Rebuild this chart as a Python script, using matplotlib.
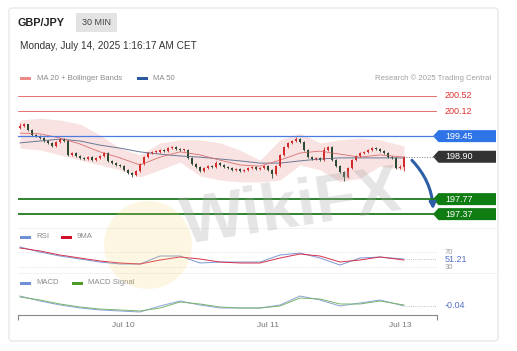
import matplotlib
matplotlib.use('Agg')
from matplotlib import pyplot as plt
from matplotlib.patches import FancyBboxPatch, Polygon, Rectangle, Circle, FancyArrowPatch
from matplotlib.transforms import blended_transform_factory

plt.rcParams['font.family'] = ['Liberation Sans', 'DejaVu Sans']

W, H = 517, 351

# 30 min candles, GBP/JPY
first_open = 199.68
closes = [199.72, 199.77, 199.61, 199.48, 199.45, 199.40, 199.32, 199.27, 199.19, 199.29,
          199.37, 199.32, 198.95, 199.00, 198.92, 198.87, 198.84, 198.89, 198.81, 198.87,
          198.92, 199.00, 198.79, 198.73, 198.68, 198.65, 198.55, 198.47, 198.41, 198.52,
          198.71, 198.89, 199.00, 199.03, 199.03, 199.08, 199.05, 199.13, 199.16, 199.11,
          199.08, 199.08, 198.87, 198.71, 198.63, 198.52, 198.60, 198.65, 198.63, 198.73,
          198.68, 198.63, 198.60, 198.55, 198.57, 198.52, 198.55, 198.60, 198.63, 198.57,
          198.60, 198.65, 198.55, 198.44, 198.65, 198.95, 199.16, 199.27, 199.32, 199.37,
          199.29, 199.08, 198.89, 198.84, 198.87, 198.81, 199.08, 199.16, 198.81, 198.65,
          198.49, 198.36, 198.60, 198.81, 198.92, 199.00, 199.03, 199.08, 199.13, 199.11,
          199.05, 199.00, 198.89, 198.87, 198.60, 198.63, 198.89]
highs = [199.80, 199.79, 199.78, 199.63, 199.52, 199.48, 199.42, 199.35, 199.29, 199.31,
         199.40, 199.39, 199.34, 199.03, 199.02, 198.94, 198.90, 198.92, 198.91, 198.89,
         198.95, 199.04, 199.02, 198.81, 198.75, 198.71, 198.67, 198.57, 198.50, 198.55,
         198.74, 198.92, 199.03, 199.06, 199.07, 199.11, 199.10, 199.17, 199.20, 199.18,
         199.14, 199.12, 199.10, 198.89, 198.73, 198.65, 198.63, 198.68, 198.68, 198.78,
         198.75, 198.70, 198.66, 198.62, 198.60, 198.59, 198.58, 198.62, 198.66, 198.65,
         198.63, 198.68, 198.67, 198.57, 198.68, 198.98, 199.19, 199.30, 199.36, 199.42,
         199.40, 199.31, 199.10, 198.92, 198.90, 198.90, 199.15, 199.19, 199.18, 198.83,
         198.67, 198.51, 198.63, 198.84, 198.96, 199.03, 199.06, 199.11, 199.17, 199.16,
         199.13, 199.07, 199.02, 198.92, 198.89, 198.67, 198.92]
lows = [199.64, 199.70, 199.58, 199.45, 199.42, 199.37, 199.29, 199.24, 199.16, 199.17,
        199.27, 199.30, 198.92, 198.93, 198.89, 198.84, 198.82, 198.82, 198.78, 198.79,
        198.85, 198.90, 198.76, 198.70, 198.66, 198.62, 198.52, 198.44, 198.37, 198.39,
        198.50, 198.69, 198.87, 198.98, 199.00, 199.01, 199.02, 199.03, 199.11, 199.08,
        199.05, 199.05, 198.84, 198.68, 198.60, 198.49, 198.50, 198.58, 198.60, 198.61,
        198.65, 198.60, 198.58, 198.52, 198.53, 198.49, 198.50, 198.53, 198.58, 198.54,
        198.55, 198.58, 198.52, 198.33, 198.42, 198.63, 198.93, 199.14, 199.25, 199.30,
        199.26, 199.05, 198.86, 198.81, 198.82, 198.78, 198.79, 199.06, 198.78, 198.62,
        198.46, 198.25, 198.34, 198.58, 198.79, 198.90, 198.98, 199.01, 199.06, 199.08,
        199.03, 198.97, 198.86, 198.84, 198.57, 198.58, 198.52]

# indicator samples (candle index)
ind_idx = [0, 5, 10, 15, 20, 25, 30, 35, 40, 45, 50, 55, 60, 65, 70, 75, 80, 85, 90, 96]
bb_upper = [199.88, 199.93, 199.88, 199.77, 199.48, 199.13, 198.95, 199.27, 199.35, 199.35,
            199.27, 199.08, 198.81, 199.35, 199.53, 199.27, 199.35, 199.40, 199.35, 199.19]
bb_lower = [199.13, 199.08, 198.95, 198.81, 198.68, 198.55, 198.36, 198.55, 198.76, 198.39,
            198.28, 198.23, 198.23, 198.28, 198.68, 198.55, 198.23, 198.33, 198.65, 198.55]
ma20 = [199.53, 199.51, 199.40, 199.24, 199.03, 198.87, 198.68, 198.89, 199.03, 198.95,
        198.81, 198.68, 198.65, 198.81, 199.00, 199.05, 198.97, 198.89, 198.95, 198.89]
ma50 = [199.27, 199.32, 199.37, 199.32, 199.21, 199.13, 199.03, 198.97, 198.92, 198.89,
        198.84, 198.79, 198.73, 198.73, 198.79, 198.84, 198.87, 198.87, 198.87, 198.87]
rsi = [83.3, 70.0, 59.3, 51.3, 43.3, 38.0, 38.0, 59.3, 59.3, 40.7,
       43.3, 43.3, 43.3, 62.0, 67.3, 54.0, 35.3, 54.0, 56.7, 51.2]
rsi_ma = [80.7, 72.7, 62.0, 54.0, 46.0, 40.7, 38.0, 48.7, 56.7, 51.3,
          43.3, 40.7, 40.7, 54.0, 64.7, 59.3, 43.3, 48.7, 56.7, 48.7]
macd = [0.06, 0.01, -0.03, -0.06, -0.08, -0.09, -0.10, -0.04, 0.01, -0.03,
        -0.06, -0.06, -0.06, -0.03, 0.06, 0.02, -0.04, -0.01, 0.02, -0.04]
macd_signal = [0.05, 0.02, -0.02, -0.05, -0.07, -0.08, -0.09, -0.06, 0.00, -0.02,
               -0.05, -0.06, -0.06, -0.04, 0.04, 0.03, -0.02, -0.02, 0.01, -0.03]

resistances = [200.52, 200.12]
pivot = 199.45
last_price = 198.90
supports = [197.77, 197.37]
rsi_last = 51.21
macd_last = -0.04
day_idx = [25.75, 62, 95]
day_labels = ['Jul 10', 'Jul 11', 'Jul 13']

opens = [first_open] + closes[:-1]
n = len(closes)
XMIN, XMAX = -0.5, 104.25


def rect(x0, y0, x1, y1):
    return [x0 / W, 1 - y1 / H, (x1 - x0) / W, (y1 - y0) / H]


fig = plt.figure(figsize=(W / 100, H / 100), dpi=100)
bg = fig.add_axes([0, 0, 1, 1])
bg.set_xlim(0, W)
bg.set_ylim(H, 0)
bg.axis('off')

bg.add_patch(FancyBboxPatch((9, 8), 489, 333, boxstyle='round,pad=0,rounding_size=3',
                            fc='white', ec='#e4e4e4', lw=0.8))
bg.text(18, 22.5, 'GBP/JPY', fontsize=7.8, fontweight='bold', color='#222222', va='center')
bg.add_patch(Rectangle((76, 13), 41, 19, fc='#e3e3e3', ec='none'))
bg.text(96.5, 22.5, '30 MIN', fontsize=6.5, color='#444444', ha='center', va='center')
bg.text(20, 46, 'Monday, July 14, 2025 1:16:17 AM CET', fontsize=7.2, color='#333333', va='center')

gray = '#8a8a8a'
bg.add_patch(Rectangle((20, 76.5), 11, 3, fc='#ec8a8a', ec='none'))
bg.text(37, 78, 'MA 20 + Bollinger Bands', fontsize=5.6, color=gray, va='center')
bg.add_patch(Rectangle((137, 76.5), 11, 3, fc='#2c5aa0', ec='none'))
bg.text(153, 78, 'MA 50', fontsize=5.6, color=gray, va='center')
bg.text(491, 78, 'Research \u00a9 2025 Trading Central', fontsize=5.6, color='#a0a0a0',
        ha='right', va='center')

bg.add_patch(Rectangle((20, 235.5), 11, 3, fc='#6f8fd6', ec='none'))
bg.text(36, 237, 'RSI', fontsize=5.6, color=gray, va='center')
bg.add_patch(Rectangle((61, 235.5), 11, 3, fc='#d0102a', ec='none'))
bg.text(77, 237, '9MA', fontsize=5.6, color=gray, va='center')
bg.add_patch(Rectangle((20, 281.5), 11, 3, fc='#6f8fd6', ec='none'))
bg.text(36, 283, 'MACD', fontsize=5.6, color=gray, va='center')
bg.add_patch(Rectangle((72, 281.5), 11, 3, fc='#4e9a2a', ec='none'))
bg.text(88, 283, 'MACD Signal', fontsize=5.6, color=gray, va='center')

for yy in (228, 273):
    bg.plot([18, 497], [yy, yy], color='#f0f0f0', lw=0.6)

# price panel
ax = fig.add_axes(rect(18, 90, 437, 222))
ax.set_xlim(XMIN, XMAX)
ax.set_ylim(197.16, 200.68)
ax.axis('off')

ax.fill_between(ind_idx, bb_lower, bb_upper, color='#f6cfcf', alpha=0.6, lw=0)
ax.plot(ind_idx, ma50, color='#6b7794', lw=0.7)
ax.plot(ind_idx, ma20, color='#d97070', lw=0.6)

for i in range(n):
    o, c = opens[i], closes[i]
    col = '#d42a2a' if c >= o else '#2d4a32'
    ax.vlines(i, lows[i], highs[i], color=col, lw=0.6)
    ax.bar(i, max(abs(c - o), 0.015), bottom=min(o, c), width=0.72, color=col, lw=0)

for lv in resistances:
    ax.axhline(lv, color='#e05a5a', lw=0.6)
ax.axhline(pivot, color='#4a7be0', lw=0.9)
for lv in supports:
    ax.axhline(lv, color='#1e7a1e', lw=1.3)
ax.plot([n - 0.5, XMAX], [last_price, last_price], color='#777777', lw=0.7, ls=':')

ytr = blended_transform_factory(bg.transData, ax.transData)
for lv in resistances:
    ax.text(445, lv, f'{lv:.2f}', transform=ytr, fontsize=6.5, color='#e03030', va='center')


def tag(value, color):
    hh = 0.16
    pts = [(433, value), (438.5, value + hh), (496, value + hh), (496, value - hh), (438.5, value - hh)]
    ax.add_patch(Polygon(pts, closed=True, transform=ytr, fc=color, ec='none', clip_on=False))
    ax.text(445, value, f'{value:.2f}', transform=ytr, fontsize=6.5, color='white', va='center')


tag(pivot, '#2f74e6')
tag(last_price, '#333333')
for lv in supports:
    tag(lv, '#0f7d12')

ax.add_patch(FancyArrowPatch((97.5, 198.86), (103.3, 197.42), connectionstyle='arc3,rad=-0.2',
                             arrowstyle='-|>', mutation_scale=9, color='#2c5fa6', lw=2.2,
                             clip_on=False))

# RSI panel
ar = fig.add_axes(rect(18, 245, 437, 272))
ar.set_xlim(XMIN, XMAX)
ar.set_ylim(16.7, 88.7)
ar.axis('off')
for lv in (70, 30):
    ar.axhline(lv, color='#d8d8d8', lw=0.6, ls=':')
ar.plot(ind_idx, rsi, color='#7b97d6', lw=0.7)
ar.plot(ind_idx, rsi_ma, color='#d6304a', lw=0.7)
ar.plot([n - 0.5, XMAX], [rsi_last, rsi_last], color='#aaaaaa', lw=0.6, ls=':')
rtr = blended_transform_factory(bg.transData, ar.transData)
ar.text(445, 70, '70', transform=rtr, fontsize=5.5, color='#999999', va='center')
ar.text(445, 30, '30', transform=rtr, fontsize=5.5, color='#999999', va='center')
ar.text(445, rsi_last, f'{rsi_last:.2f}', transform=rtr, fontsize=6.5, color='#5470c6',
        va='center', bbox=dict(fc='white', ec='none', pad=0.3))

# MACD panel
am = fig.add_axes(rect(18, 290, 437, 315))
am.set_xlim(XMIN, XMAX)
am.set_ylim(-0.13, 0.12)
for s in ('top', 'left', 'right'):
    am.spines[s].set_visible(False)
am.spines['bottom'].set_color('#888888')
am.spines['bottom'].set_linewidth(0.8)
am.set_yticks([])
am.set_xticks(day_idx)
am.set_xticklabels(day_labels)
am.set_xticks([XMIN, XMAX], minor=True)
am.tick_params(axis='x', which='major', length=0, pad=5, labelsize=6, labelcolor='#777777')
am.tick_params(axis='x', which='minor', length=3.5, width=0.8, color='#888888')
am.plot(ind_idx, macd, color='#8ea3d9', lw=0.7)
am.plot(ind_idx, macd_signal, color='#79b46a', lw=0.7)
am.plot([n - 0.5, XMAX], [macd_last, macd_last], color='#aaaaaa', lw=0.6, ls=':')
mtr = blended_transform_factory(bg.transData, am.transData)
am.text(445, macd_last, f'{macd_last:.2f}', transform=mtr, fontsize=6.5, color='#5470c6',
        va='center')

# watermark
wm = fig.add_axes([0, 0, 1, 1], zorder=10)
wm.set_xlim(0, W)
wm.set_ylim(H, 0)
wm.axis('off')
wm.add_patch(Circle((148, 245), 44, fc='#f7d56e', ec='none', alpha=0.2))
wm.text(292, 210, 'WikiFX', fontsize=48, fontweight='bold', color='#a8a8a8', alpha=0.3,
        rotation=9, ha='center', va='center')

fig.savefig('out.png', dpi=100)
